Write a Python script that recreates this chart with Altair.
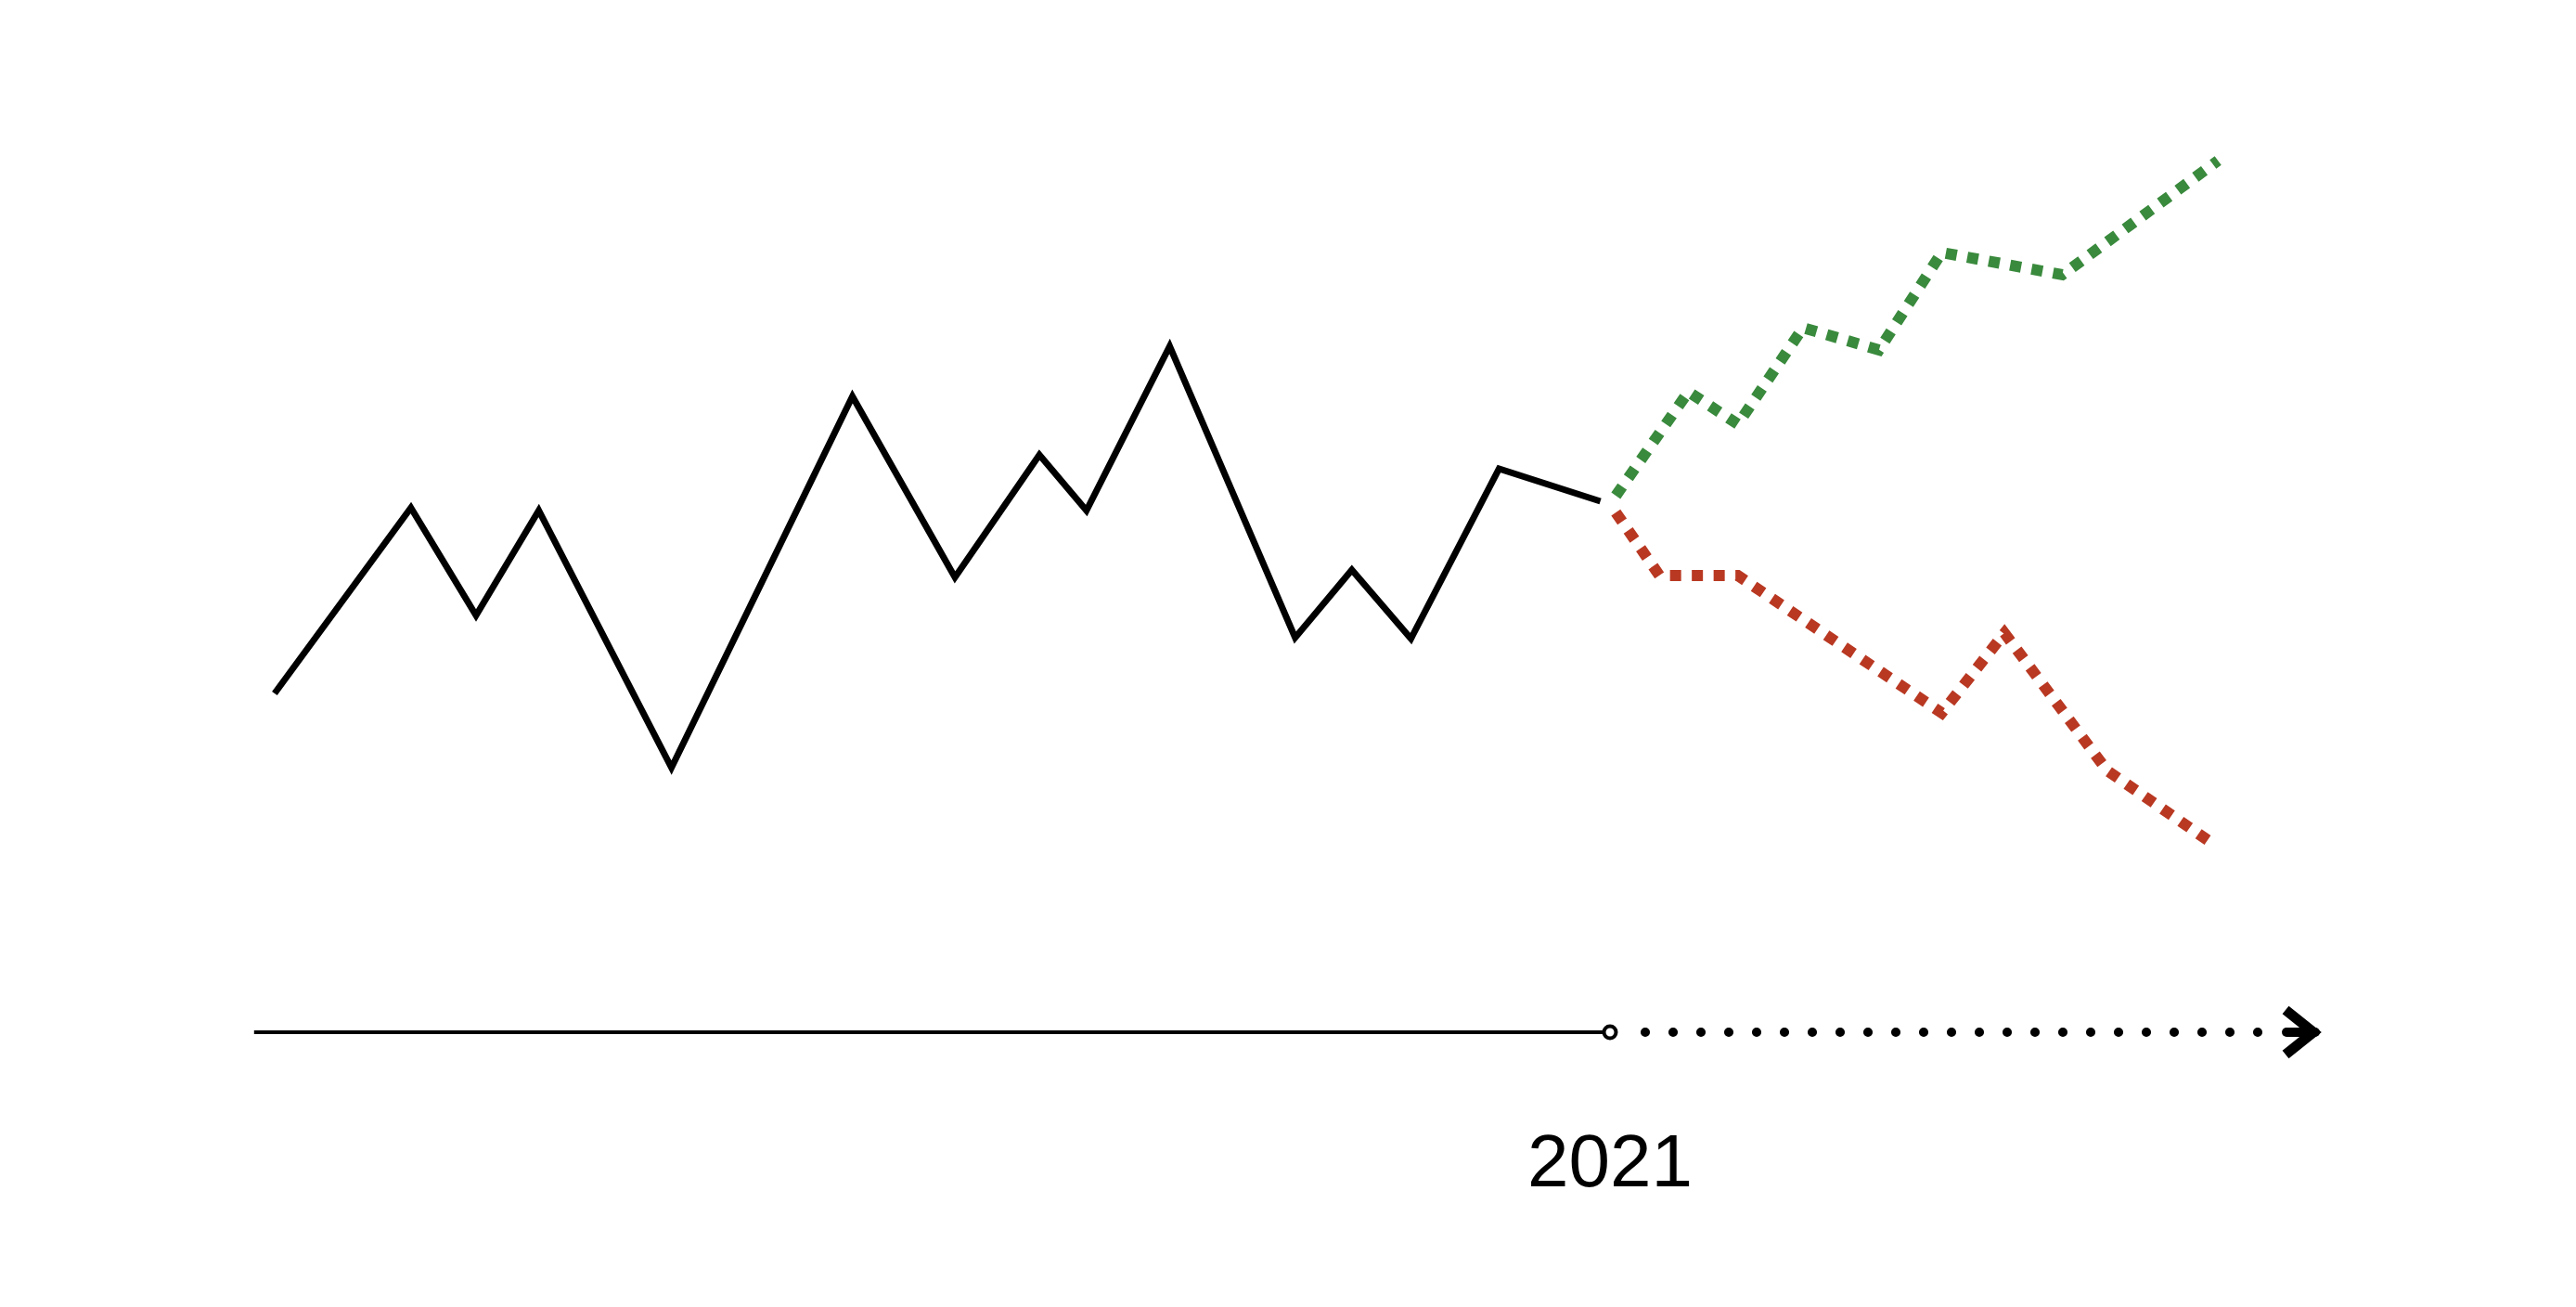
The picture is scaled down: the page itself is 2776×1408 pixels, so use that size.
import altair as alt
import pandas as pd

# ---- data (decimal years, index value) ----
hist_t = [2009.93, 2011.06, 2011.60, 2012.12, 2013.22, 2014.72, 2015.57, 2016.27,
          2016.66, 2017.35, 2018.39, 2018.86, 2019.35, 2020.08, 2020.92]
hist_v = [36.5, 56.5, 44.9, 56.2, 28.5, 68.5, 49.0, 62.2,
          56.2, 73.9, 42.5, 49.8, 42.4, 60.7, 57.2]

up_t = [2021.0, 2021.65, 2022.06, 2022.60, 2023.23, 2023.75, 2024.75, 2026.04]
up_v = [56.9, 69.0, 65.5, 75.9, 73.5, 84.0, 81.6, 93.9]

down_t = [2021.0, 2021.41, 2022.06, 2023.75, 2024.27, 2025.12, 2026.02]
down_v = [56.9, 49.2, 49.2, 34.4, 43.0, 28.2, 20.1]

timeline_start = 2009.76
now_year = 2021.0
now_label = "2021"
future_dots = [2021.292, 2026.370]
arrow_shaft = [2026.608, 2026.846]
arrow_tip = 2026.831

GREEN = "#3a8a3d"
RED = "#b93822"

W, H = 2700, 1360
PX_PER_YEAR = 130.0
T0 = now_year - 1727 / PX_PER_YEAR
T1 = T0 + W / PX_PER_YEAR
V1 = 110.4
V0 = V1 - H / 10.0

xs = alt.Scale(domain=[T0, T1], nice=False, zero=False)
ys = alt.Scale(domain=[V0, V1], nice=False, zero=False)


def X(f="t"):
    return alt.X(f"{f}:Q", scale=xs, axis=None)


def Y(f="v"):
    return alt.Y(f"{f}:Q", scale=ys, axis=None)


hist = pd.DataFrame({"t": hist_t, "v": hist_v})
up = pd.DataFrame({"t": up_t, "v": up_v})
down = pd.DataFrame({"t": down_t, "v": down_v})

black_line = alt.Chart(hist).mark_line(color="black", strokeWidth=7, strokeJoin="miter").encode(x=X(), y=Y())

green_line = alt.Chart(up).mark_line(
    color=GREEN, strokeWidth=12, strokeDash=[12, 11.5], strokeDashOffset=12.5
).encode(x=X(), y=Y())

red_line = alt.Chart(down).mark_line(
    color=RED, strokeWidth=12, strokeDash=[12, 11.5], strokeDashOffset=12.5
).encode(x=X(), y=Y())

past_axis = alt.Chart(pd.DataFrame({"t": [timeline_start], "t2": [now_year], "v": [0]})).mark_rule(
    color="black", strokeWidth=4
).encode(x=X(), x2="t2:Q", y=Y())

dots_axis = alt.Chart(pd.DataFrame({"t": [future_dots[0]], "t2": [future_dots[1]], "v": [0]})).mark_rule(
    color="black", strokeWidth=10, strokeDash=[0.1, 29.9], strokeCap="round"
).encode(x=X(), x2="t2:Q", y=Y())

shaft = alt.Chart(pd.DataFrame({"t": [arrow_shaft[0]], "t2": [arrow_shaft[1]], "v": [0]})).mark_rule(
    color="black", strokeWidth=10, strokeCap="round"
).encode(x=X(), x2="t2:Q", y=Y())

chevron = alt.Chart(pd.DataFrame({"t": [arrow_tip], "v": [0]})).mark_point(
    shape="M-1,-0.8L0,0L-1,0.8", size=3600, filled=False, stroke="black",
    strokeWidth=11, strokeJoin="miter", opacity=1
).encode(x=X(), y=Y())

now_marker = alt.Chart(pd.DataFrame({"t": [now_year], "v": [0]})).mark_point(
    shape="circle", size=169, filled=True, fill="white", stroke="black",
    strokeWidth=4, opacity=1
).encode(x=X(), y=Y())

label = alt.Chart(pd.DataFrame({"t": [now_year], "v": [-16.6], "txt": [now_label]})).mark_text(
    font="Liberation Sans", fontSize=80, align="center", baseline="alphabetic", color="black"
).encode(x=X(), y=Y(), text="txt:N")

chart = alt.layer(
    black_line, green_line, red_line, past_axis, dots_axis, shaft, chevron, now_marker, label
).properties(
    width=W, height=H, padding=0, autosize=alt.AutoSizeParams(type="none"), background="white"
).configure_view(strokeWidth=0)

chart.save("out.html", embed_options={"renderer": "svg", "actions": False})
